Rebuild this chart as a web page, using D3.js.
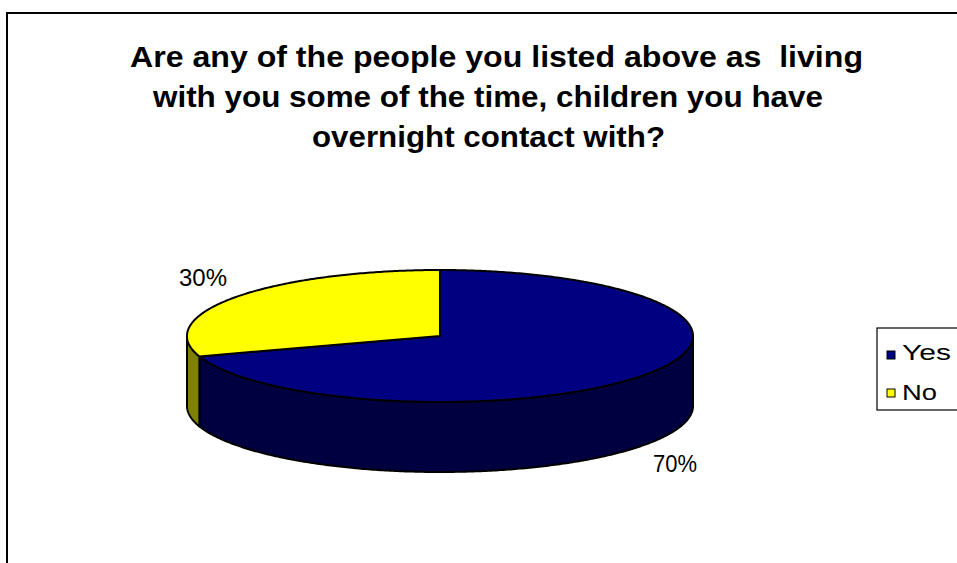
<!DOCTYPE html>
<html>
<head>
<meta charset="utf-8">
<script src="https://cdn.jsdelivr.net/npm/d3@7"></script>
<style>
  html, body { margin: 0; padding: 0; background: #ffffff; }
  svg { display: block; }
  text { font-family: "Liberation Sans", Arial, sans-serif; }
</style>
</head>
<body>
<svg id="chart" width="957" height="563"></svg>
<script>
// Survey answers
const categories = ["Yes", "No"];
const shares = [70, 30];
const valueLabels = ["70%", "30%"];
const titleLines = [
  "Are any of the people you listed above as  living",
  "with you some of the time, children you have",
  "overnight contact with?"
];

const topColors = ["#000080", "#FFFF00"];
const sideColors = ["#000040", "#808000"];

const svg = d3.select("#chart");

// Chart frame
svg.append("path")
  .attr("d", "M7,570 L7,13 L965,13")
  .attr("fill", "none")
  .attr("stroke", "#000")
  .attr("stroke-width", 2);

// Title
const titleLayout = [
  { x: 130, y: 67, len: 733 },
  { x: 153, y: 107, len: 670 },
  { x: 312, y: 147, len: 353 }
];
svg.append("g").selectAll("text")
  .data(titleLines)
  .join("text")
  .attr("x", (d, i) => titleLayout[i].x)
  .attr("y", (d, i) => titleLayout[i].y)
  .attr("textLength", (d, i) => titleLayout[i].len)
  .attr("lengthAdjust", "spacingAndGlyphs")
  .attr("font-size", 29)
  .attr("font-weight", "bold")
  .attr("fill", "#000")
  .style("white-space", "pre")
  .text(d => d);

// 3D pie geometry
const cx = 440, cy = 336, rx = 253, ry = 66, depth = 70;
const pie = d3.pie().sort(null).value(d => d)
  .startAngle(0).endAngle(2 * Math.PI);
const arcs = pie(shares);

// angle measured clockwise from 12 o'clock
const pt = (a, dy = 0) => [cx + rx * Math.sin(a), cy - ry * Math.cos(a) + dy];

function ellipseArc(a0, a1, dy) {
  const steps = Math.max(2, Math.ceil(Math.abs(a1 - a0) / 0.01));
  const pts = [];
  for (let k = 0; k <= steps; k++) {
    pts.push(pt(a0 + (a1 - a0) * k / steps, dy));
  }
  return pts;
}

const line = d3.line();
const gPie = svg.append("g");

// outer walls on the front half (between 3 and 9 o'clock)
arcs.forEach((a, i) => {
  const s = Math.max(a.startAngle, Math.PI / 2);
  const e = Math.min(a.endAngle, 3 * Math.PI / 2);
  if (e <= s) return;
  const topEdge = ellipseArc(s, e, 0);
  const bottomEdge = ellipseArc(e, s, depth);
  gPie.append("path")
    .attr("d", line(topEdge.concat(bottomEdge)) + "Z")
    .attr("fill", sideColors[i])
    .attr("stroke", "#000")
    .attr("stroke-width", 2)
    .attr("stroke-linejoin", "round");
});

// top faces
arcs.forEach((a, i) => {
  const pts = [[cx, cy]].concat(ellipseArc(a.startAngle, a.endAngle, 0));
  gPie.append("path")
    .attr("d", line(pts) + "Z")
    .attr("fill", topColors[i])
    .attr("stroke", "#000")
    .attr("stroke-width", 2)
    .attr("stroke-linejoin", "round");
});

// value labels
const labelLayout = [
  { x: 653, y: 472, len: 44 },
  { x: 179, y: 286, len: 48 }
];
svg.append("g").selectAll("text")
  .data(valueLabels)
  .join("text")
  .attr("x", (d, i) => labelLayout[i].x)
  .attr("y", (d, i) => labelLayout[i].y)
  .attr("textLength", (d, i) => labelLayout[i].len)
  .attr("lengthAdjust", "spacingAndGlyphs")
  .attr("font-size", 23)
  .attr("fill", "#000")
  .text(d => d);

// Legend
const legend = svg.append("g");
legend.append("rect")
  .attr("x", 877).attr("y", 328)
  .attr("width", 100).attr("height", 82)
  .attr("fill", "#fff")
  .attr("stroke", "#000")
  .attr("stroke-width", 1.2);
const legendRows = [
  { y: 351, ty: 360, len: 49 },
  { y: 389, ty: 400, len: 35 }
];
const items = legend.selectAll("g.item")
  .data(categories)
  .join("g")
  .attr("class", "item");
items.append("rect")
  .attr("x", 887)
  .attr("y", (d, i) => legendRows[i].y)
  .attr("width", 8).attr("height", 8)
  .attr("fill", (d, i) => topColors[i])
  .attr("stroke", "#000")
  .attr("stroke-width", 1);
items.append("text")
  .attr("x", 902)
  .attr("y", (d, i) => legendRows[i].ty)
  .attr("textLength", (d, i) => legendRows[i].len)
  .attr("lengthAdjust", "spacingAndGlyphs")
  .attr("font-size", 22)
  .attr("fill", "#000")
  .text(d => d);
</script>
</body>
</html>
